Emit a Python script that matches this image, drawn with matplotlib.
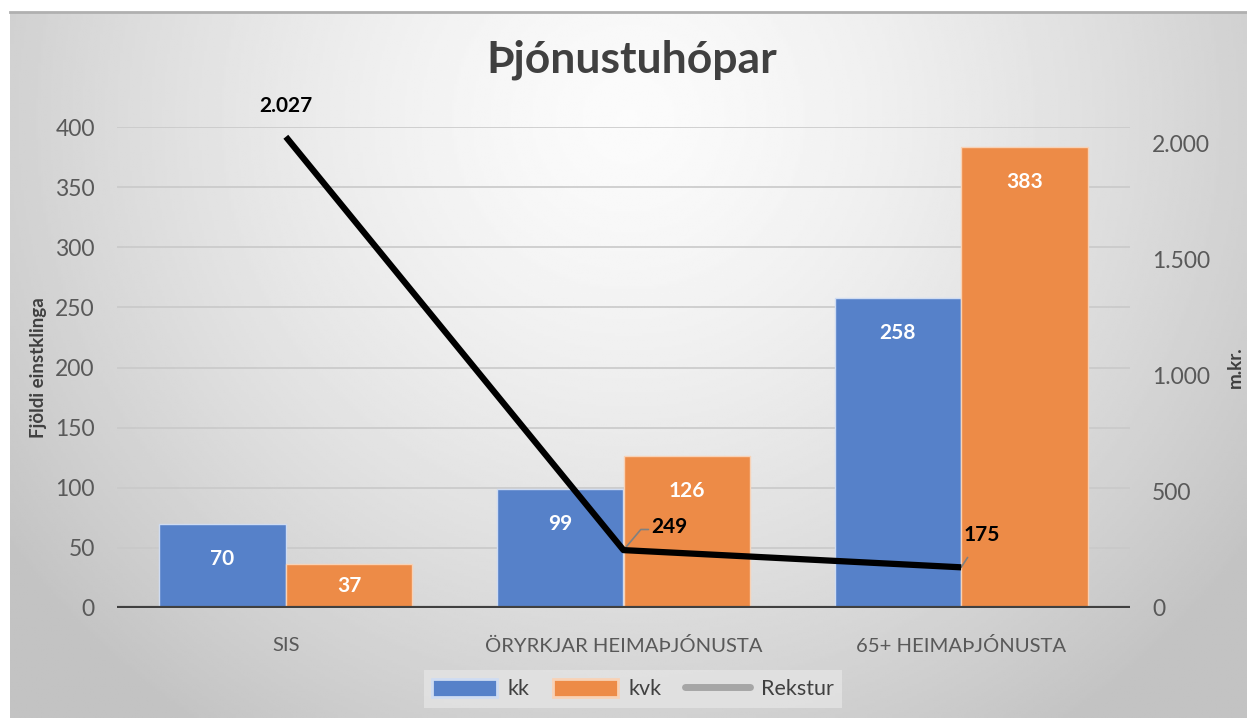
import numpy as np
import matplotlib
matplotlib.use("Agg")
import matplotlib.pyplot as plt
from matplotlib.patches import Patch
from matplotlib.lines import Line2D

plt.rcParams['font.family'] = ['Lato', 'DejaVu Sans']

# data
categories = ["SIS", "ÖRYRKJAR HEIMAÞJÓNUSTA", "65+ HEIMAÞJÓNUSTA"]
kk = [70, 99, 258]
kvk = [37, 126, 383]
rekstur = [2027, 249, 175]
rekstur_labels = ["2.027", "249", "175"]
left_ticks = [0, 50, 100, 150, 200, 250, 300, 350, 400]
right_ticks = [0, 500, 1000, 1500, 2000]
right_tick_labels = ["0", "500", "1.000", "1.500", "2.000"]

blue = "#5681c9"
orange = "#ed8b47"
text_gray = "#595959"

fig = plt.figure(figsize=(12.47, 7.18), dpi=100)
fig.patch.set_facecolor("white")

# gradient background of the chart area
bg = fig.add_axes([10 / 1247, 0, 1 - 10 / 1247, 1 - 12 / 718], zorder=-5)
yy, xx = np.mgrid[0:1:300j, 0:1:500j]
r = np.sqrt(((xx - 0.5) / 0.62) ** 2 + ((yy - 0.15) / 1.05) ** 2)
shade = 0.985 - 0.22 * np.clip(r, 0, 1) ** 1.4
bg.imshow(shade, cmap="gray", vmin=0, vmax=1, aspect="auto", extent=[0, 1, 1, 0])
bg.set_axis_off()
fig.add_artist(Line2D([10 / 1247, 1], [1 - 12 / 718] * 2, color="#b0b0b0", lw=2,
                      transform=fig.transFigure))

ax = fig.add_axes([117 / 1247, 110 / 718, 1013 / 1247, 481 / 718])
ax.set_facecolor("none")
x = np.arange(len(categories))
w = 0.375
b1 = ax.bar(x - w / 2, kk, w, color=blue, edgecolor="#cfdcf2", linewidth=1, zorder=3)
b2 = ax.bar(x + w / 2, kvk, w, color=orange, edgecolor="#f8d2b6", linewidth=1, zorder=3)

for bars, vals in [(b1, kk), (b2, kvk)]:
    for rect, v in zip(bars, vals):
        ly = max(v - 29, v / 2)
        ax.text(rect.get_x() + rect.get_width() / 2, ly, str(v), color="white",
                fontsize=15, fontweight="bold", ha="center", va="center", zorder=5)

ax.set_xlim(-0.5, 2.5)
ax.set_ylim(0, 400)
ax.set_yticks(left_ticks)
ax.set_xticks(x)
ax.set_xticklabels(categories, fontsize=14.6, color=text_gray)
ax.tick_params(axis="y", labelsize=16.5, labelcolor=text_gray, length=0, pad=16)
ax.tick_params(axis="x", length=0, pad=21)
ax.yaxis.grid(True, color="#c9c9c9", lw=1.2, zorder=0)
for s in ax.spines.values():
    s.set_visible(False)
ax.axhline(0, color="#404040", lw=3, zorder=4)
ax.set_ylabel("Fjöldi einstklinga", fontsize=13.5, fontweight="bold", color="#404040", labelpad=6)

ax2 = ax.twinx()
ax2.set_ylim(0, 2069)
ax2.set_yticks(right_ticks)
ax2.set_yticklabels(right_tick_labels)
ax2.tick_params(axis="y", labelsize=16.5, labelcolor=text_gray, length=0, pad=16)
for s in ax2.spines.values():
    s.set_visible(False)
ax2.plot(x, rekstur, color="black", lw=4.5, solid_capstyle="butt", zorder=6)
ax2.set_ylabel("m.kr.", fontsize=13.5, fontweight="bold", color="#404040", labelpad=12)

ax2.annotate(rekstur_labels[0], (x[0], rekstur[0]), xytext=(0, 22), textcoords="offset points",
             ha="center", va="center", fontsize=15, fontweight="bold", color="black")
ax2.annotate(rekstur_labels[1], (x[1], rekstur[1]), xytext=(33, 17), textcoords="offset points",
             ha="center", va="center", fontsize=15, fontweight="bold", color="black",
             arrowprops=dict(arrowstyle="-", color="#808080", lw=1.2,
                             connectionstyle="angle,angleA=0,angleB=50,rad=0",
                             shrinkA=0, shrinkB=0, relpos=(0, 0.35)))
ax2.annotate(rekstur_labels[2], (x[2], rekstur[2]), xytext=(15, 23), textcoords="offset points",
             ha="center", va="center", fontsize=15, fontweight="bold", color="black",
             arrowprops=dict(arrowstyle="-", color="#808080", lw=1.2, shrinkA=8, shrinkB=0))

fig.text(632 / 1247, 1 - 60 / 718, "Þjónustuhópar", fontsize=32, fontweight="bold",
         color="#404040", ha="center", va="center")

handles = [Patch(facecolor=blue, edgecolor="#cfdcf2", lw=2),
           Patch(facecolor=orange, edgecolor="#f8d2b6", lw=2),
           Line2D([0], [0], color="#a6a6a6", lw=5, solid_capstyle="round")]
leg = fig.legend(handles, ["kk", "kvk", "Rekstur"], loc="center", ncol=3,
                 bbox_to_anchor=(633 / 1247, 1 - 689 / 718), fontsize=15.5, frameon=True,
                 handlelength=3.0, handleheight=0.9, columnspacing=1.1, handletextpad=0.5,
                 borderpad=0.4, fancybox=False)
leg.get_frame().set_facecolor("#e4e4e4")
leg.get_frame().set_edgecolor("none")
leg.get_frame().set_alpha(0.8)
for t in leg.get_texts():
    t.set_color("#404040")

fig.savefig("out.png", dpi=100)
